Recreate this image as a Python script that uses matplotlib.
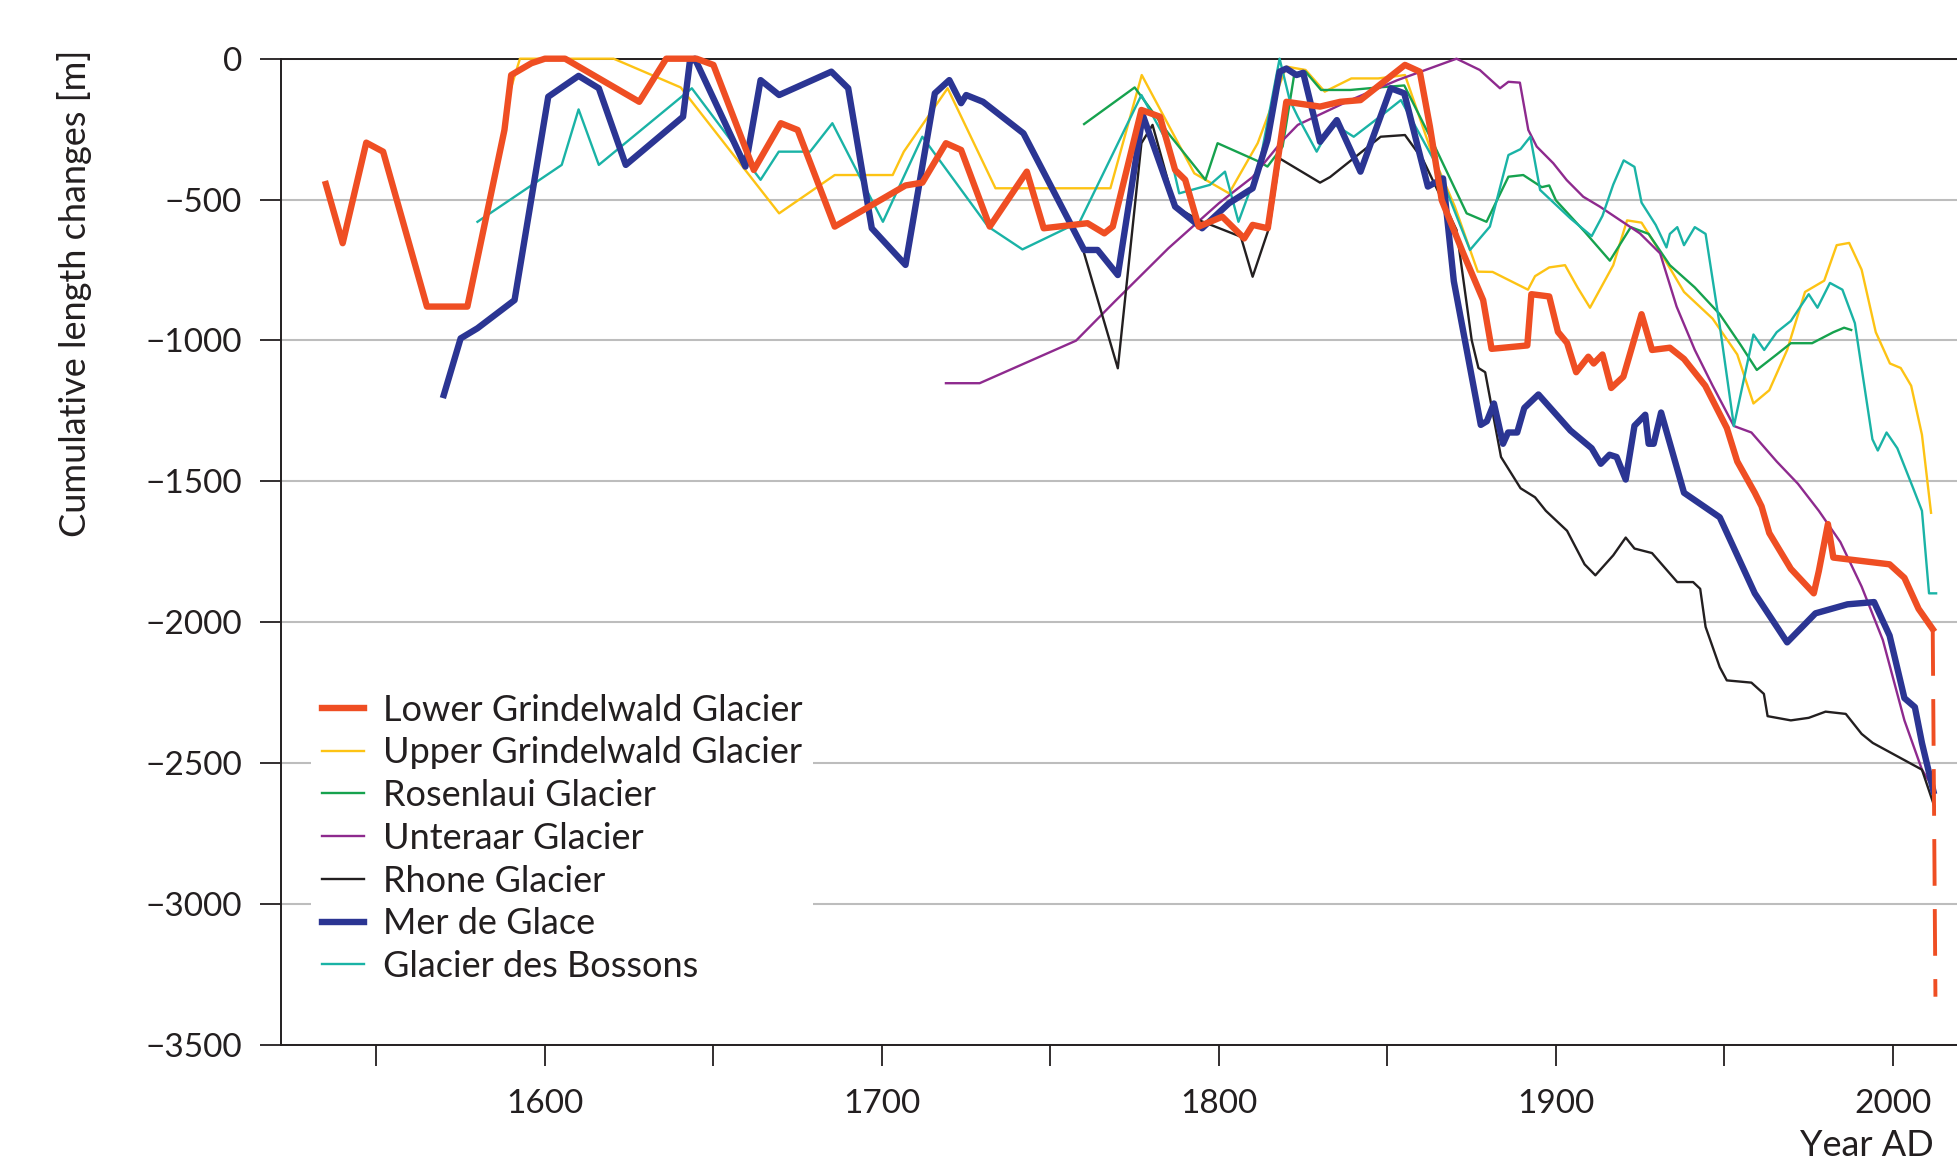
import matplotlib
matplotlib.use("Agg")
import matplotlib.pyplot as plt
from matplotlib.ticker import MultipleLocator, FuncFormatter

# ---------------- data ----------------
lower_grindelwald_years = [1535, 1540, 1547, 1552, 1565, 1577, 1588, 1590, 1596, 1600, 1606, 1628, 1636, 1645,
                           1650, 1662, 1670, 1675, 1686, 1707, 1712, 1719, 1723.5, 1732, 1743, 1748, 1761, 1766,
                           1768.5, 1777, 1782.5, 1787, 1790, 1794, 1801, 1807.5, 1810, 1814.5, 1820, 1830, 1836,
                           1842, 1855.2, 1859.6, 1862.6, 1866.1, 1872.5, 1878.4, 1880.9, 1891.5, 1892.7, 1898,
                           1900.6, 1903.3, 1906, 1909.6, 1911.2, 1913.8, 1916.4, 1920, 1925.4, 1928.5, 1933.8,
                           1938, 1944.3, 1950.7, 1953.8, 1959, 1961, 1963.3, 1969.7, 1976.5, 1978, 1980.7,
                           1982.3, 1999, 2003.4, 2007.6, 2011.8]
lower_grindelwald_vals = [-445, -655, -298, -330, -880, -880, -253, -58, -16, 0, 0, -153, 0, 0,
                          -22, -395, -229, -253, -596, -450, -440, -300, -324, -596, -401, -602, -584, -620,
                          -596, -182, -206, -395, -430, -596, -561, -638, -590, -602, -153, -170, -153,
                          -147, -22, -46, -241, -502, -691, -857, -1030, -1018, -836, -844,
                          -970, -1009, -1113, -1058, -1082, -1050, -1169, -1129, -907, -1034, -1026,
                          -1066, -1161, -1311, -1430, -1541, -1589, -1684, -1811, -1898, -1819, -1652,
                          -1771, -1795, -1843, -1953, -2025]
lower_grindelwald_proj_years = [2011.8, 2012.6]
lower_grindelwald_proj_vals = [-2025, -3330]

upper_grindelwald_years = [1590, 1592.6, 1620.4, 1640.3, 1669.5, 1686, 1703.2, 1706.5, 1719.5, 1733.7, 1767.8,
                           1777.1, 1792.7, 1803, 1811.5, 1820, 1825.7, 1831.4, 1839.3, 1847.3, 1855.2, 1863.2,
                           1870, 1876.8, 1881.2, 1891.7, 1893.8, 1898, 1902.7, 1906.4, 1910.1, 1917, 1921.1,
                           1925.4, 1931.7, 1938, 1946.5, 1953.8, 1958.6, 1963.3, 1968.6, 1973.9, 1979.6,
                           1983.3, 1987, 1990.7, 1994.9, 1999.1, 2002.3, 2005.4, 2008.6, 2011.3]
upper_grindelwald_vals = [-102, 0, 0, -102, -549, -413, -413, -330, -105, -460, -460,
                          -58, -407, -478, -300, -28, -40, -117, -70, -70, -58, -336,
                          -525, -756, -757, -820, -772, -741, -733, -812, -884, -733, -574,
                          -582, -701, -828, -923, -1050, -1224, -1177, -1034, -828, -788,
                          -662, -654, -749, -971, -1082, -1098, -1161, -1335, -1612]

rosenlaui_years = [1760, 1775, 1785, 1796, 1799.6, 1812, 1814.4, 1818.9, 1822.4, 1825.7, 1830.3, 1839, 1847.3,
                   1855, 1863.6, 1873.5, 1879.4, 1885.9, 1890.3, 1895.8, 1898, 1900, 1908.5, 1916, 1922.2,
                   1927.5, 1933.8, 1941.2, 1948.6, 1954.9, 1959.6, 1965.5, 1969.7, 1976, 1982.3, 1985.5,
                   1987.6]
rosenlaui_vals = [-232, -102, -265, -430, -300, -366, -383, -312, -52, -46, -111, -111, -102,
                  -95, -300, -549, -579, -419, -413, -456, -450, -503, -614, -717, -598,
                  -622, -733, -812, -907, -1018, -1105, -1050, -1010, -1010, -971, -955,
                  -963]

unteraar_years = [1719, 1729, 1757.6, 1769, 1785, 1800, 1810, 1819, 1823.4, 1839, 1853, 1870.5, 1877.4, 1883.4,
                  1885.9, 1889.3, 1891.8, 1894.3, 1899.2, 1903.2, 1908.1, 1913, 1919, 1924.9, 1930.9,
                  1935.8, 1941.2, 1946.5, 1952.8, 1958, 1965.5, 1971.8, 1978, 1984.4, 1990.7, 1997, 2003.4,
                  2008.6, 2011]
unteraar_vals = [-1152, -1152, -1001, -863, -673, -513, -420, -289, -235, -147, -76, 0, -40, -105,
                 -82, -85, -253, -312, -371, -431, -490, -525, -573, -620, -691,
                 -880, -1034, -1161, -1304, -1327, -1430, -1509, -1605, -1716, -1874, -2064, -2349,
                 -2524, -2570]

rhone_years = [1760, 1770, 1777, 1780.3, 1787, 1794, 1806.5, 1810, 1815, 1818, 1830, 1833, 1848, 1855.2, 1860.6,
               1870.5, 1875, 1877, 1879, 1883.7, 1889.5, 1893.8, 1897, 1903.3, 1908.5, 1911.7, 1917,
               1920.7, 1923.3, 1928.5, 1936, 1940.7, 1942.8, 1944.4, 1948.6, 1950.7, 1958, 1961.7, 1962.8,
               1969.7, 1975, 1980, 1986, 1990.7, 1994, 2008.6, 2012.3]
rhone_vals = [-691, -1099, -300, -235, -525, -573, -632, -774, -596, -354, -440, -420, -277, -271, -360,
              -608, -999, -1098, -1113, -1414, -1525, -1557, -1605, -1676, -1795, -1834, -1763,
              -1700, -1739, -1755, -1858, -1858, -1882, -2017, -2160, -2207, -2215, -2255, -2334,
              -2349, -2340, -2318, -2326, -2397, -2429, -2524, -2655]

mer_de_glace_years = [1570, 1575, 1580, 1591, 1601, 1610, 1616, 1624, 1641, 1643, 1644.5, 1659.5, 1664, 1669.5,
                      1685, 1690, 1697, 1707, 1715.7, 1720, 1723.5, 1725, 1730, 1742, 1760, 1764, 1770, 1777.4,
                      1787, 1795, 1803, 1810, 1814.4, 1818, 1820, 1823, 1825, 1830, 1835, 1842, 1851, 1855,
                      1862, 1866.5, 1869.7, 1877.7, 1879.5, 1881.6, 1884.3, 1885.8, 1888.5, 1890.6, 1894.8,
                      1904.3, 1910.6, 1913.3, 1915.9, 1918, 1920.7, 1923.3, 1926.5, 1927.5, 1929, 1931.2,
                      1938, 1948.6, 1959, 1968.6, 1977, 1986.5, 1994.4, 1999, 2003.4, 2006.5, 2008.6, 2012]
mer_de_glace_vals = [-1194, -993, -957, -857, -135, -61, -105, -377, -206, -11, 0, -383, -76, -129,
                     -46, -105, -602, -732, -123, -76, -158, -129, -153, -265, -679, -679, -768, -200,
                     -525, -602, -513, -460, -289, -46, -35, -58, -50, -295, -218, -401, -105, -123,
                     -454, -425, -790, -1300, -1287, -1224, -1367, -1327, -1327, -1240, -1192,
                     -1320, -1383, -1438, -1406, -1414, -1494, -1303, -1264, -1367, -1367, -1256,
                     -1541, -1628, -1898, -2072, -1969, -1937, -1929, -2048, -2270, -2302, -2429, -2600]

bossons_years = [1580, 1605, 1610, 1616, 1643.6, 1664, 1669.4, 1678.7, 1685.3, 1700.3, 1712, 1731.5, 1741.7,
                 1758.7, 1777, 1784.8, 1788.2, 1797.3, 1801.8, 1805.8, 1812, 1818, 1821, 1823.4, 1829,
                 1833.6, 1840, 1848.4, 1854, 1864.3, 1874.5, 1880.4, 1885.9, 1889.5, 1892.4, 1895.3, 1904.3,
                 1910.6, 1913.8, 1917, 1920.1, 1923.3, 1925.4, 1929.6, 1932.8, 1933.8, 1936, 1938, 1941.2,
                 1944.4, 1948.6, 1952.8, 1958.6, 1961.8, 1965.5, 1969.7, 1975, 1977.6, 1981.3, 1985,
                 1988.7, 1990.7, 1993.9, 1995.5, 1998.1, 2001.3, 2006, 2008.6, 2010.7, 2012.8]
bossons_vals = [-579, -377, -180, -377, -105, -430, -330, -330, -229, -579, -277, -596, -677,
                -579, -129, -300, -478, -448, -401, -579, -377, 0, -147, -206, -330,
                -229, -277, -200, -147, -371, -679, -596, -342, -321, -277, -466, -567,
                -630, -558, -447, -361, -384, -511, -590, -670, -622, -598, -662, -598,
                -622, -947, -1304, -979, -1034, -971, -931, -836, -884, -796, -820,
                -939, -1098, -1351, -1391, -1327, -1383, -1525, -1605, -1898, -1898]

series_names = ["Lower Grindelwald Glacier", "Upper Grindelwald Glacier", "Rosenlaui Glacier",
                "Unteraar Glacier", "Rhone Glacier", "Mer de Glace", "Glacier des Bossons"]

y_ticks = [0, -500, -1000, -1500, -2000, -2500, -3000, -3500]
x_label_years = [1600, 1700, 1800, 1900, 2000]

# ---------------- style ----------------
FONT = "Lato"
TXT = "#231F20"
plt.rcParams["font.family"] = [FONT, "DejaVu Sans"]

W, H = 1957, 1176
fig = plt.figure(figsize=(W / 100, H / 100), dpi=100)
ax = fig.add_axes([281 / W, 1 - 1044.6 / H, 1 - 281 / W, (1044.6 - 58.7) / H])

colors = {
    "lower": "#EF4E23",
    "upper": "#FDC314",
    "rosen": "#16A24E",
    "unter": "#8E2A8E",
    "rhone": "#231F20",
    "mer": "#2B3593",
    "boss": "#1AB3A6",
}
thick, thin = 4.6, 1.7

handles = []
h, = ax.plot(lower_grindelwald_years, lower_grindelwald_vals, color=colors["lower"], lw=thick,
             solid_joinstyle="round", zorder=6, clip_on=False)
handles.append(h)
ax.plot(lower_grindelwald_proj_years, lower_grindelwald_proj_vals, color=colors["lower"], lw=2.8,
        linestyle=(0, (12, 6)), zorder=6, clip_on=False)
h, = ax.plot(upper_grindelwald_years, upper_grindelwald_vals, color=colors["upper"], lw=thin, zorder=3,
             clip_on=False)
handles.append(h)
h, = ax.plot(rosenlaui_years, rosenlaui_vals, color=colors["rosen"], lw=thin, zorder=3, clip_on=False)
handles.append(h)
h, = ax.plot(unteraar_years, unteraar_vals, color=colors["unter"], lw=thin, zorder=3, clip_on=False)
handles.append(h)
h, = ax.plot(rhone_years, rhone_vals, color=colors["rhone"], lw=thin, zorder=3, clip_on=False)
handles.append(h)
h, = ax.plot(mer_de_glace_years, mer_de_glace_vals, color=colors["mer"], lw=thick,
             solid_joinstyle="round", zorder=5, clip_on=False)
handles.append(h)
h, = ax.plot(bossons_years, bossons_vals, color=colors["boss"], lw=thin, zorder=4, clip_on=False)
handles.append(h)

ax.set_xlim(1521.7, 2019)
ax.set_ylim(-3500, 0)

ax.set_yticks(y_ticks)
ax.yaxis.set_major_formatter(FuncFormatter(lambda v, p: f"{int(v)}".replace("-", "\u2212")))
ax.xaxis.set_major_locator(MultipleLocator(50))
ax.xaxis.set_major_formatter(FuncFormatter(lambda v, p: f"{int(round(v))}" if int(round(v)) in x_label_years else ""))

ax.tick_params(axis="both", direction="out", length=15, width=1.3, color=TXT, labelcolor=TXT,
               labelsize=24)
ax.tick_params(axis="y", pad=13)
ax.tick_params(axis="x", pad=17)

for s in ["left", "bottom", "top"]:
    ax.spines[s].set_color(TXT)
    ax.spines[s].set_linewidth(1.4)
ax.spines["right"].set_visible(False)

ax.grid(axis="y", color="#BDBDBD", lw=1.5)
ax.set_axisbelow(True)

fig.text(75 / W, 1 - 50 / H, "Cumulative length changes [m]", rotation=90, ha="center", va="top",
         fontsize=26, color=TXT)
fig.text(1934 / W, 1 - 1146 / H, "Year AD", ha="right", va="center", fontsize=26, color=TXT)

leg = ax.legend(handles, series_names, loc="upper left", bbox_to_anchor=(0.018, 0.367),
                borderaxespad=0, frameon=True, fontsize=26, handlelength=1.16, handletextpad=0.53,
                labelspacing=0.27, borderpad=0.3)
leg.get_frame().set_facecolor("white")
leg.get_frame().set_edgecolor("none")
leg.get_frame().set_alpha(1)
leg.set_zorder(10)
for t in leg.get_texts():
    t.set_color(TXT)

fig.savefig("out.png", dpi=100)
